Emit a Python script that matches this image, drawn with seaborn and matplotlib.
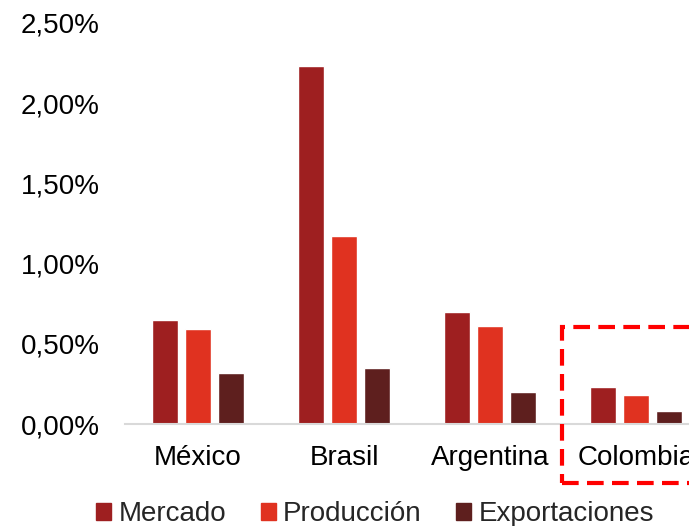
import matplotlib
matplotlib.use('Agg')
import matplotlib.pyplot as plt
import matplotlib.patches as mpatches
import pandas as pd
import seaborn as sns

paises = ['México', 'Brasil', 'Argentina', 'Colombia']
series = ['Mercado', 'Producción', 'Exportaciones']
mercado = [0.65, 2.23, 0.70, 0.23]
produccion = [0.59, 1.17, 0.61, 0.18]
exportaciones = [0.32, 0.35, 0.20, 0.08]
colores = ['#9E1F20', '#E03220', '#5E1F1E']
y_ticks = [0, 0.5, 1.0, 1.5, 2.0, 2.5]

df = pd.DataFrame({
    'pais': paises * 3,
    'serie': [s for s in series for _ in paises],
    'valor': mercado + produccion + exportaciones,
})

sns.set_style('white')
plt.rcParams['font.family'] = ['Liberation Sans', 'DejaVu Sans']

fig = plt.figure(figsize=(6.89, 5.26), dpi=100)
ax = fig.add_axes([125 / 689, 102 / 526, 584 / 689, 401 / 526])

sns.barplot(data=df, x='pais', y='valor', hue='serie', order=paises,
            hue_order=series, palette=colores, width=0.67, gap=0.2,
            ax=ax, legend=False, saturation=1)

ax.set_xlim(-0.5, 3.5)
ax.set_ylim(0, 2.5)
ax.set_yticks(y_ticks)
ax.set_yticklabels([f'{v:.2f}%'.replace('.', ',') for v in y_ticks])
ax.set_xlabel('')
ax.set_ylabel('')
ax.tick_params(axis='both', length=0, labelsize=20, colors='black')
ax.tick_params(axis='y', pad=18)
ax.tick_params(axis='x', pad=15)
for s in ['top', 'right', 'left']:
    ax.spines[s].set_visible(False)
ax.spines['bottom'].set_color('#D9D9D9')
ax.spines['bottom'].set_linewidth(1.5)

handles = [mpatches.Patch(color=c, label=s) for c, s in zip(colores, series)]
fig.legend(handles=handles, loc='center', bbox_to_anchor=(375 / 689, 1 - 514 / 526),
           ncol=3, frameon=False, fontsize=20, handlelength=0.55, handleheight=0.55,
           handletextpad=0.25, columnspacing=1.25)

# recuadro punteado sobre Colombia
rect = mpatches.Rectangle((562 / 689, 1 - 483 / 526), 140 / 689, 156 / 526,
                          transform=fig.transFigure, fill=False, edgecolor='#FF0000',
                          linewidth=3, linestyle=(0, (4, 2)), clip_on=False)
fig.patches.append(rect)

fig.savefig('out.png', dpi=100)
